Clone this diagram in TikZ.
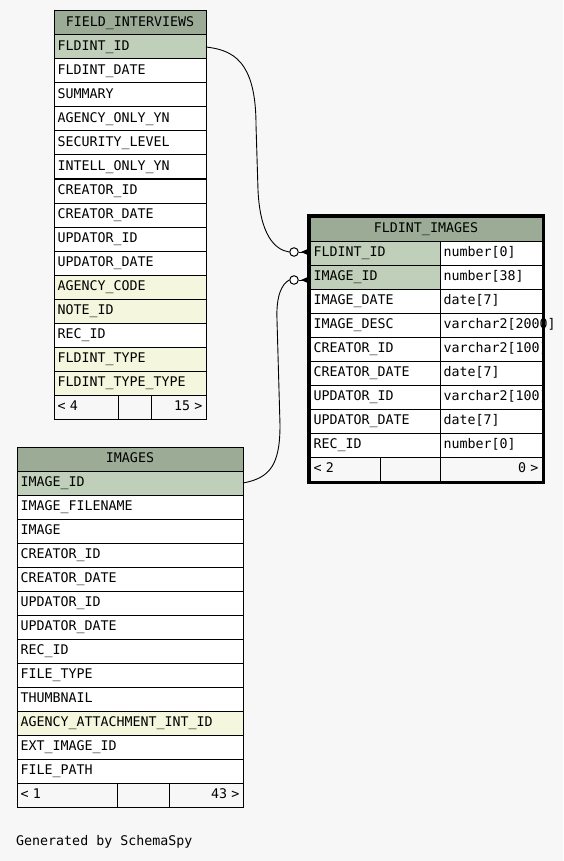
\documentclass[tikz,border=0pt]{standalone}
\usepackage{fontspec}
\usepackage{tikz}
\usepackage{xcolor}
\usetikzlibrary{calc}
\newfontfamily\spyfont{DejaVu Sans Mono}
\definecolor{bgcol}{RGB}{247,247,247}
\definecolor{hdrcol}{RGB}{155,171,150}
\definecolor{keycol}{RGB}{191,207,185}
\definecolor{fkcol}{RGB}{244,247,221}

\begin{document}
\begin{tikzpicture}[x=1pt,y=-1pt,
cell/.style={draw,line width=1pt,anchor=north west,outer sep=0pt,minimum height=24pt,
	inner xsep=3.5pt,inner ysep=0pt,text height=9pt,text depth=2.5pt,align=left,
	font=\spyfont\fontsize{13.3}{14}\selectfont},
hdr/.style={cell,fill=hdrcol,align=center},
key/.style={cell,fill=keycol},
fk/.style={cell,fill=fkcol},
plain/.style={cell,fill=white},
foot/.style={cell,fill=bgcol},
link/.style={line width=0.9pt},
zero/.style={draw,circle,line width=1pt,fill=white,minimum size=8.5pt,inner sep=0}]
	\fill[bgcol] (0,0) rectangle (563,861);
	\def\fx{54}
	\def\fy{11}
	\def\ix{17}
	\def\iy{447}
	\def\mx{310}
	\def\my{217}

	%field interviews
	\node[hdr,text width=145pt] (fi0) at (\fx,\fy) {FIELD\_INTERVIEWS};
	\foreach \n/\s [count=\i] in {FLDINT\_ID/key,FLDINT\_DATE/plain,SUMMARY/plain,
		AGENCY\_ONLY\_YN/plain,SECURITY\_LEVEL/plain,INTELL\_ONLY\_YN/plain,
		CREATOR\_ID/plain,CREATOR\_DATE/plain,UPDATOR\_ID/plain,UPDATOR\_DATE/plain,
		AGENCY\_CODE/fk,NOTE\_ID/fk,REC\_ID/plain,FLDINT\_TYPE/fk,FLDINT\_TYPE\_TYPE/fk} {
		\node[\s,text width=145pt] (fi\i) at (\fx,{\fy+24*\i}) {\n};
	}
	\node[foot,text width=57pt] (fif1) at (\fx,{\fy+24*16}) {< 4};
	\node[foot,text width=26pt] (fif2) at (fif1.north east) {};
	\node[foot,text width=48pt,align=right] (fif3) at (fif2.north east) {15 >};

	%images
	\node[hdr,text width=219pt] (im0) at (\ix,\iy) {IMAGES};
	\foreach \n/\s [count=\i] in {IMAGE\_ID/key,IMAGE\_FILENAME/plain,IMAGE/plain,
		CREATOR\_ID/plain,CREATOR\_DATE/plain,UPDATOR\_ID/plain,UPDATOR\_DATE/plain,
		REC\_ID/plain,FILE\_TYPE/plain,THUMBNAIL/plain,AGENCY\_ATTACHMENT\_INT\_ID/fk,
		EXT\_IMAGE\_ID/plain,FILE\_PATH/plain} {
		\node[\s,text width=219pt] (im\i) at (\ix,{\iy+24*\i}) {\n};
	}
	\node[foot,text width=93pt] (imf1) at (\ix,{\iy+24*14}) {< 1};
	\node[foot,text width=45pt] (imf2) at (imf1.north east) {};
	\node[foot,text width=67pt,align=right] (imf3) at (imf2.north east) {43 >};

	%fldint images
	\node[hdr,text width=225pt] (fm0) at (\mx,\my) {FLDINT\_IMAGES};
	\foreach \n/\t/\s [count=\i] in {FLDINT\_ID/number[0]/key,IMAGE\_ID/number[38]/key,
		IMAGE\_DATE/date[7]/plain,IMAGE\_DESC/varchar2[2000]/plain,
		CREATOR\_ID/varchar2[100]/plain,CREATOR\_DATE/date[7]/plain,
		UPDATOR\_ID/varchar2[100]/plain,UPDATOR\_DATE/date[7]/plain,REC\_ID/number[0]/plain} {
		\node[\s,text width=123pt] (fm\i) at (\mx,{\my+24*\i}) {\n};
		\node[plain,text width=95pt] (fmt\i) at (fm\i.north east) {\t};
	}
	\node[foot,text width=63pt] (fmf1) at (\mx,{\my+24*10}) {< 2};
	\node[foot,text width=53pt] (fmf2) at (fmf1.north east) {};
	\node[foot,text width=95pt,align=right] (fmf3) at (fmf2.north east) {0 >};

	%links
	\node[zero] (c1) at (294,252) {};
	\node[zero] (c2) at (294,280) {};
	\coordinate (e1) at (fm1.west |- c1);
	\coordinate (e2) at (fm2.west |- c2);
	\draw[link] (fi1.east) .. controls (232,50) and (256,60) .. (256,125)
		-- (258,190) .. controls (260,235) and (275,250) .. (c1.west);
	\draw[link] (im1.east) .. controls (270,478) and (280,465) .. (280,425)
		-- (277,320) .. controls (276,295) and (282,284) .. (c2.west);
	\foreach \j in {1,2} {
		\draw[link] (c\j.east) -- (e\j);
		\fill ([xshift=-9pt]e\j) -- ([yshift=4pt]e\j) -- ([yshift=-4pt]e\j) -- cycle;
	}
	\draw[line width=3pt] ([shift={(-1.5pt,1.5pt)}]fm0.north west) rectangle
		([shift={(1.5pt,-1.5pt)}]fmf3.south east);

	\node[anchor=west,inner sep=0,font=\spyfont\fontsize{13.3}{14}\selectfont] (gen) at (16,842)
		{Generated by SchemaSpy};
\end{tikzpicture}
\end{document}
